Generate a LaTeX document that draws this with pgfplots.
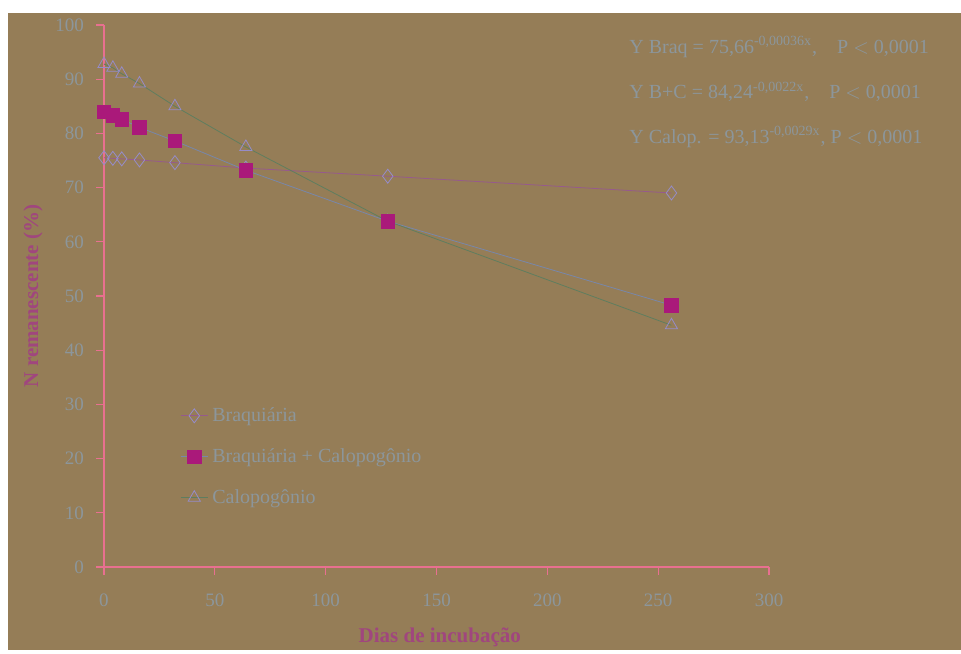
\documentclass[border=0pt]{standalone}
\usepackage{fontspec}
\setmainfont{Liberation Serif}
\usepackage{pgfplots}
\pgfplotsset{compat=1.18}
\definecolor{bg}{RGB}{149,125,87}
\definecolor{axpink}{RGB}{232,112,144}
\definecolor{mag}{RGB}{170,25,122}
\definecolor{txt}{RGB}{140,150,155}
\definecolor{ttl}{RGB}{160,70,126}
\definecolor{lnA}{RGB}{150,90,140}
\definecolor{lnB}{RGB}{120,135,170}
\definecolor{lnC}{RGB}{95,125,95}
\definecolor{mkA}{RGB}{150,140,200}
\begin{document}
\begin{tikzpicture}
\fill[white] (0,0) rectangle (480.5pt,325pt);
\fill[bg] (4pt,0) rectangle (480.5pt,318.5pt);
\begin{axis}[
  at={(52pt,41.5pt)}, anchor=south west,
  scale only axis, width=332.5pt, height=271pt,
  xmin=0, xmax=300, ymin=0, ymax=100,
  axis lines=left, axis line style={-, axpink, line width=0.6pt},
  xtick={0,50,...,300}, ytick={0,10,...,100},
  tick align=outside, major tick length=4pt,
  tick style={axpink, line width=0.6pt},
  tick label style={font=\fontsize{9.5}{11}\selectfont, text=txt},
  /pgf/number format/assume math mode=true,
  xticklabel style={yshift=-6pt},
  yticklabel style={xshift=-2.5pt},
  xlabel={Dias de incubação},
  ylabel={N remanescente (\%)},
  label style={font=\fontsize{10.5}{12}\selectfont\bfseries, text=ttl},
  xlabel style={at={(axis description cs:0.505,0)}, anchor=center, yshift=-35pt},
  ylabel style={at={(axis description cs:0,0.5)}, anchor=center, yshift=35.5pt},
  legend cell align=left,
  legend image code/.code={\draw[mark repeat=2,mark phase=2,#1] plot coordinates {(0cm,0cm)(0.24cm,0cm)(0.48cm,0cm)};},
  legend style={draw=none, fill=none, at={(axis cs:31.5,31)}, anchor=north west,
    font=\fontsize{10}{12}\selectfont, text=txt, row sep=8pt},
]
\addplot[color=lnA, thin, mark=diamond, mark size=3.5pt, mark options={draw=mkA, fill=none, solid}]
 coordinates {(0,75.5)(4,75.4)(8,75.3)(16,75.1)(32,74.6)(64,73.6)(128,72.1)(256,69.0)};
\addlegendentry{Braquiária}
\addplot[color=lnB, thin, mark=square*, mark size=3.4pt, mark options={draw=mag, fill=mag, solid}]
 coordinates {(0,84.0)(4,83.3)(8,82.6)(16,81.1)(32,78.6)(64,73.2)(128,63.8)(256,48.3)};
\addlegendentry{Braquiária + Calopogônio}
\addplot[color=lnC, thin, mark=triangle, mark size=3.5pt, mark options={draw=mkA, fill=none, solid}]
 coordinates {(0,92.8)(4,92.1)(8,91.0)(16,89.2)(32,85.0)(64,77.5)(128,63.8)(256,44.6)};
\addlegendentry{Calopogônio}
\addplot[forget plot, only marks, mark=square*, mark size=3.4pt, mark options={draw=mag, fill=mag}]
 coordinates {(128,63.8)};
\end{axis}
\begin{scope}[font=\fontsize{10}{12}\selectfont, text=txt]
\node[anchor=west, inner sep=0pt] at (314.5pt,301.5pt) {Y Braq = 75,66\textsuperscript{-0,00036x},\quad P $<$ 0,0001};
\node[anchor=west, inner sep=0pt] at (314.5pt,279pt) {Y B+C = 84,24\textsuperscript{-0,0022x},\quad P $<$ 0,0001};
\node[anchor=west, inner sep=0pt] at (314.5pt,256.5pt) {Y Calop. = 93,13\textsuperscript{-0,0029x}, P $<$ 0,0001};
\end{scope}
\end{tikzpicture}
\end{document}
